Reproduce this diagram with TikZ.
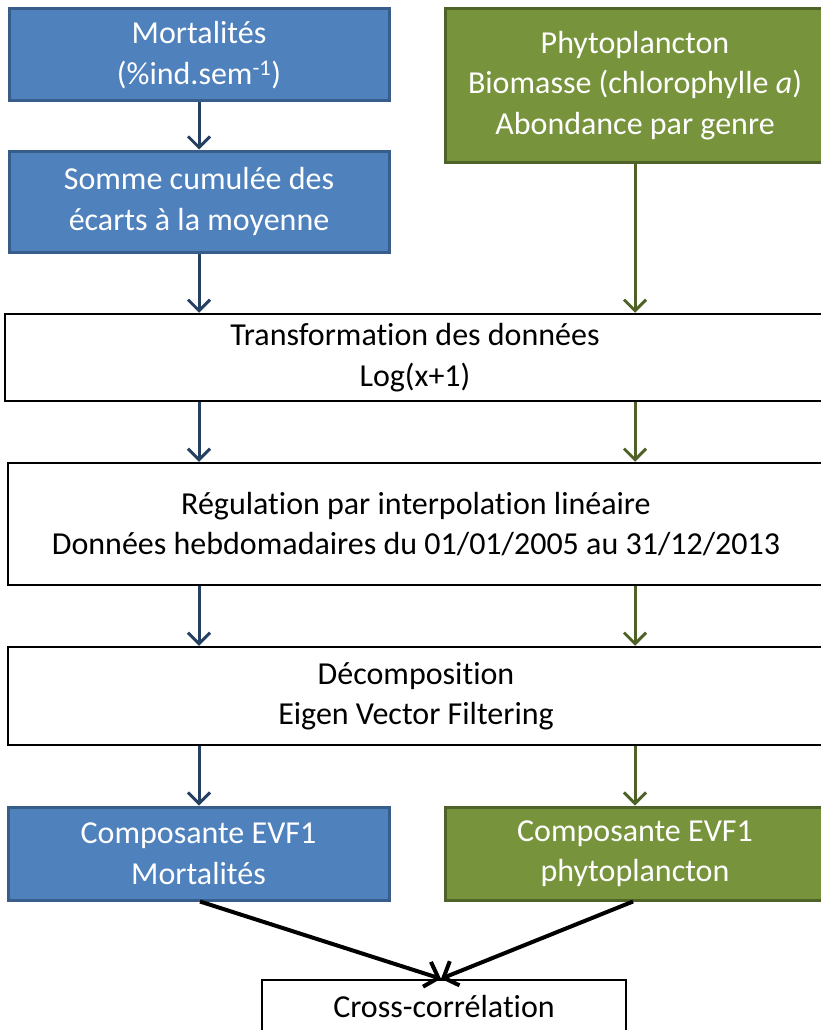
\documentclass[tikz,border=0pt]{standalone}
\usepackage{fontspec}
\setmainfont{Carlito}[Ligatures=NoCommon]
\usetikzlibrary{arrows.meta}
\definecolor{bfill}{HTML}{4F81BD}
\definecolor{bdraw}{HTML}{385D8A}
\definecolor{gfill}{HTML}{77933C}
\definecolor{gdraw}{HTML}{4F6228}
\definecolor{barrow}{HTML}{254061}
\definecolor{garrow}{HTML}{4F6228}
\tikzset{
  box/.style={rectangle, inner sep=0pt, align=center, font=\fontsize{32}{40.5}\selectfont},
  bluebox/.style={box, fill=bfill, draw=bdraw, line width=3pt, text=white},
  greenbox/.style={box, fill=gfill, draw=gdraw, line width=3pt, text=white},
  whitebox/.style={box, fill=white, draw=black, line width=2.5pt, text=black},
  barr/.style={draw=barrow, line width=3pt, -{Straight Barb[length=11pt,width=22pt,line width=3pt]}},
  garr/.style={draw=garrow, line width=3pt, -{Straight Barb[length=11pt,width=22pt,line width=3pt]}},
  karr/.style={draw=black, line width=4pt, -{Straight Barb[length=12pt,width=26pt,line width=4pt]}},
}
\begin{document}
\begin{tikzpicture}[x=1pt,y=-1pt]
\useasboundingbox (0,0) rectangle (820,1030);
\node[bluebox, minimum width=380pt, minimum height=92pt] (m1) at (199,55) {Mortalités\\(\%ind.sem\textsuperscript{-1})};
\node[bluebox, minimum width=380pt, minimum height=101pt] (m2) at (199,201.5) {Somme cumulée des\\écarts à la moyenne};
\node[greenbox, minimum width=390pt, minimum height=153pt] (p1) at (640,85.5) {\hspace*{-10pt}Phytoplancton\\\hspace*{-10pt}Biomasse (chlorophylle \textit{a})\\\hspace*{-10pt}Abondance par genre};
\node[whitebox, minimum width=830pt, minimum height=87pt] (tr) at (420,357.5) {\hspace*{-10pt}Transformation des données\\\hspace*{-10pt}Log(x+1)};
\node[whitebox, minimum width=830pt, minimum height=122pt] (rg) at (423,524) {\hspace*{-14pt}Régulation par interpolation linéaire\\\hspace*{-14pt}Données hebdomadaires du 01/01/2005 au 31/12/2013};
\node[whitebox, minimum width=830pt, minimum height=98pt] (dc) at (423,696) {\hspace*{-14pt}Décomposition\\\hspace*{-14pt}Eigen Vector Filtering};
\node[bluebox, minimum width=381pt, minimum height=93pt] (cm) at (198.5,853.5) {Composante EVF1\\Mortalités};
\node[greenbox, minimum width=390pt, minimum height=93pt] (cp) at (640,853.5) {\hspace*{-10pt}Composante EVF1\\\hspace*{-10pt}phytoplancton};
\node[whitebox, minimum width=364pt, minimum height=52pt] (cc) at (444,1006) {Cross-corrélation};
% connectors
\draw[barr] (m1.south -| 199,0) -- (m2.north -| 199,0);
\draw[barr] (m2.south -| 199,0) -- (tr.north -| 199,0);
\draw[garr] (p1.south -| 635,0) -- (tr.north -| 635,0);
\draw[barr] (tr.south -| 199,0) -- (rg.north -| 199,0);
\draw[garr] (tr.south -| 635,0) -- (rg.north -| 635,0);
\draw[barr] (rg.south -| 199,0) -- (dc.north -| 199,0);
\draw[garr] (rg.south -| 635,0) -- (dc.north -| 635,0);
\draw[barr] (dc.south -| 199,0) -- (cm.north -| 199,0);
\draw[garr] (dc.south -| 635,0) -- (cp.north -| 635,0);
\draw[karr] (cm.south -| 200,0) -- (cc.north -| 441,0);
\draw[karr] (cp.south -| 633,0) -- (cc.north -| 441,0);
\end{tikzpicture}
\end{document}
